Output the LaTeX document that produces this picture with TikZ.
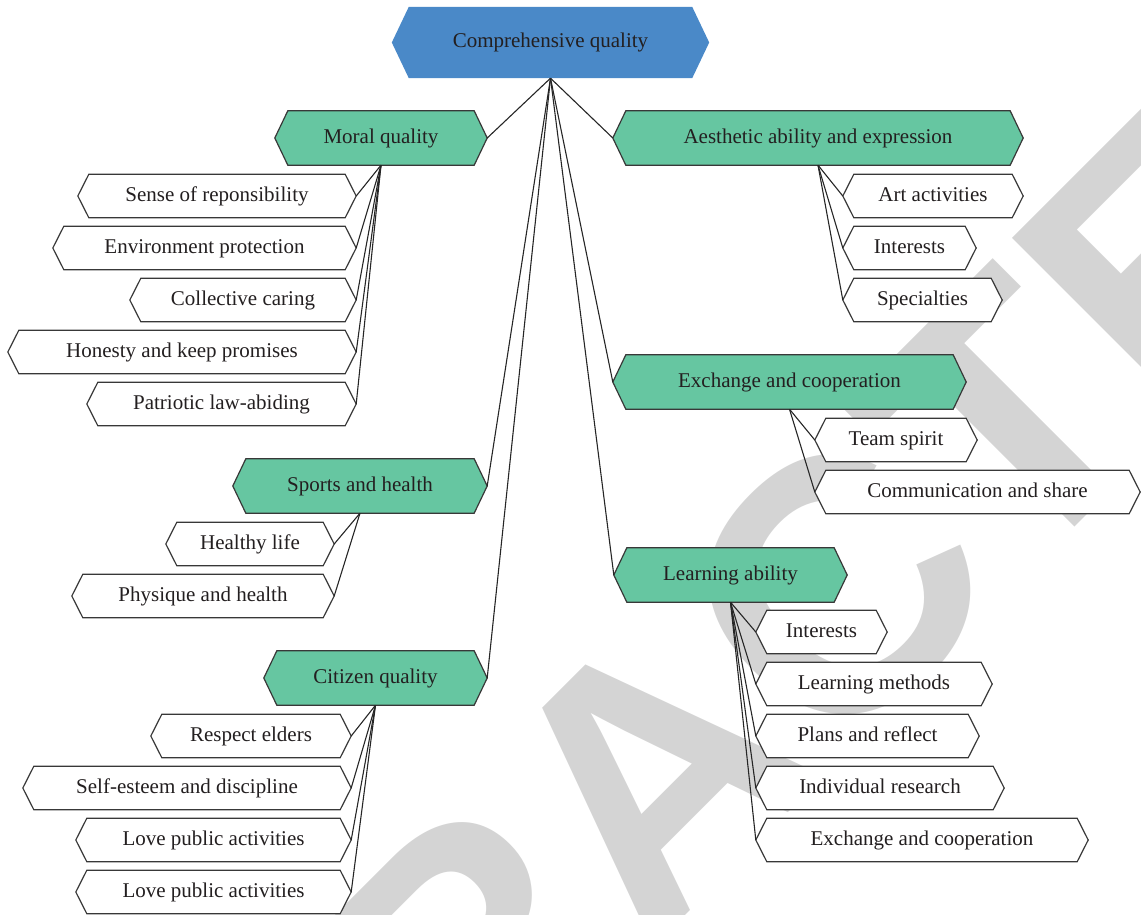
\documentclass[tikz,border=0pt]{standalone}
\usepackage{fontspec}
\setmainfont{Liberation Serif}
\newfontfamily\wmfont{Liberation Sans}
\definecolor{rootblue}{HTML}{4A89C8}
\definecolor{lvgreen}{HTML}{66C6A1}
\definecolor{edgegray}{HTML}{383838}
\definecolor{txtcol}{HTML}{231F20}
\definecolor{wmgray}{HTML}{D4D4D4}
\pgfdeclarelayer{wm}
\pgfdeclarelayer{shapes}
\pgfsetlayers{wm,shapes,main}
\newcommand\hexdraw[3]{%
  \path[#3] ([xshift=#2pt]#1.north west) -- ([xshift=-#2pt]#1.north east) -- (#1.east)
    -- ([xshift=-#2pt]#1.south east) -- ([xshift=#2pt]#1.south west) -- (#1.west) -- cycle;}
\tikzset{
  box/.style={rectangle, inner sep=0pt, text=txtcol,
    font=\fontsize{21}{25}\selectfont, text height=14pt, text depth=3pt},
  rootbox/.style={box, minimum height=71pt},
  lvone/.style={box, minimum height=54pt},
  lvtwo/.style={box, minimum height=43pt},
  rootshape/.style={fill=rootblue},
  greenshape/.style={fill=lvgreen, draw=edgegray, line width=1.2pt, line join=miter},
  whiteshape/.style={fill=white, draw=edgegray, line width=1.2pt, line join=miter},
  link/.style={draw=black!85, line width=1.1pt},
}
\begin{document}
\begin{tikzpicture}[x=1pt, y=-1pt]
\useasboundingbox (0,0) rectangle (1141,915);
% watermark
\begin{pgfonlayer}{wm}
\begin{scope}
\clip (0,0) rectangle (1141,915);
\node[inner sep=0pt, text=wmgray, rotate=45,
  font=\wmfont\bfseries\fontsize{360}{360}\selectfont] (wmark) at (652,774) {RETRACTED};
\end{scope}
\end{pgfonlayer}
% root
\node[rootbox, minimum width=317pt] (root) at (550.5,42.5) {Comprehensive quality};
% level one
\node[lvone, minimum width=212pt] (moral) at (381,138) {Moral quality};
\node[lvone, minimum width=254pt] (sports) at (360,486) {Sports and health};
\node[lvone, minimum width=223pt] (citizen) at (375.5,678) {Citizen quality};
\node[lvone, minimum width=410pt] (aes) at (818,138) {Aesthetic ability and expression};
\node[lvone, minimum width=353pt] (exch) at (789.5,382) {Exchange and cooperation};
\node[lvone, minimum width=233pt] (learn) at (730.5,575) {Learning ability};
% moral children
\node[lvtwo, minimum width=278pt] (sense) at (217,196) {Sense of reponsibility};
\node[lvtwo, minimum width=303pt] (env) at (204.5,248) {Environment protection};
\node[lvtwo, minimum width=226pt] (coll) at (243,300) {Collective caring};
\node[lvtwo, minimum width=348pt] (hon) at (182,352) {Honesty and keep promises};
\node[lvtwo, minimum width=269pt] (pat) at (221.5,404) {Patriotic law-abiding};
% sports children
\node[lvtwo, minimum width=168pt] (healthy) at (250,544) {Healthy life};
\node[lvtwo, minimum width=262pt] (phys) at (203,596) {Physique and health};
% citizen children
\node[lvtwo, minimum width=200pt] (respect) at (251,736) {Respect elders};
\node[lvtwo, minimum width=328pt] (selfest) at (187,788) {Self-esteem and discipline};
\node[lvtwo, minimum width=275pt] (loveA) at (213.5,840) {Love public activities};
\node[lvtwo, minimum width=275pt] (loveB) at (213.5,892) {Love public activities};
% aesthetic children
\node[lvtwo, minimum width=180pt] (art) at (933,196) {Art activities};
\node[lvtwo, minimum width=133pt] (intA) at (909.5,248) {Interests};
\node[lvtwo, minimum width=159pt] (spec) at (922.5,300) {Specialties};
% exchange children
\node[lvtwo, minimum width=162pt] (team) at (896,440) {Team spirit};
\node[lvtwo, minimum width=325pt] (comm) at (977.5,492) {Communication and share};
% learning children
\node[lvtwo, minimum width=131pt] (intB) at (821.5,632) {Interests};
\node[lvtwo, minimum width=236pt] (methods) at (874,684) {Learning methods};
\node[lvtwo, minimum width=223pt] (plans) at (867.5,736) {Plans and reflect};
\node[lvtwo, minimum width=248pt] (indiv) at (880,788) {Individual research};
\node[lvtwo, minimum width=332pt] (exchB) at (922,840) {Exchange and cooperation};
% shapes
\begin{pgfonlayer}{shapes}
\hexdraw{root}{17}{rootshape}
\foreach \n in {moral,sports,citizen,aes,exch,learn} {\hexdraw{\n}{13}{greenshape}}
\foreach \n in {sense,env,coll,hon,pat,healthy,phys,respect,selfest,loveA,loveB,
  art,intA,spec,team,comm,intB,methods,plans,indiv,exchB} {\hexdraw{\n}{11}{whiteshape}}
\end{pgfonlayer}
% connectors
\foreach \c in {moral,sports,citizen} {\draw[link] (root.south) -- (\c.east);}
\foreach \c in {aes,exch,learn} {\draw[link] (root.south) -- (\c.west);}
\foreach \c in {sense,env,coll,hon,pat} {\draw[link] (moral.south) -- (\c.east);}
\foreach \c in {healthy,phys} {\draw[link] (sports.south) -- (\c.east);}
\foreach \c in {respect,selfest,loveA,loveB} {\draw[link] (citizen.south) -- (\c.east);}
\foreach \c in {art,intA,spec} {\draw[link] (aes.south) -- (\c.west);}
\foreach \c in {team,comm} {\draw[link] (exch.south) -- (\c.west);}
\foreach \c in {intB,methods,plans,indiv,exchB} {\draw[link] (learn.south) -- (\c.west);}
\end{tikzpicture}
\end{document}
